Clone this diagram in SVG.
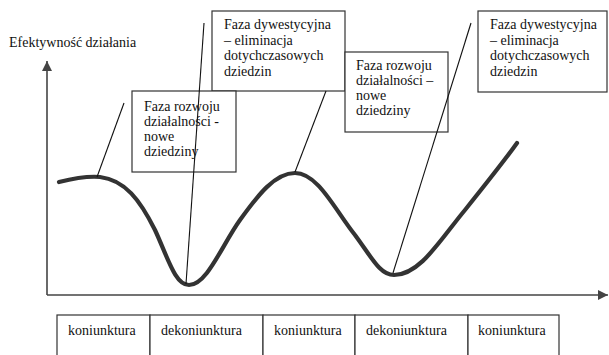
<svg xmlns="http://www.w3.org/2000/svg" width="609" height="355" viewBox="0 0 609 355">
<style>
text{font-family:"Liberation Serif","Times New Roman",serif;font-size:14px;fill:#111}
.box{fill:#fff;stroke:#333;stroke-width:1.2}
.ax{stroke:#444;stroke-width:1.6;fill:none}
.lead{stroke:#111;stroke-width:1.1;fill:none}
.curve{stroke:#333;stroke-width:4.2;fill:none;stroke-linecap:round}
.cell{fill:#fff;stroke:#333;stroke-width:1.2}
</style>
<defs>
<marker id="arr" viewBox="0 0 10 10" refX="10" refY="5" markerWidth="10" markerHeight="10" markerUnits="userSpaceOnUse" orient="auto">
<path d="M0,0 L10,5 L0,10 Z" fill="#444"/>
</marker>
</defs>
<g id="axes">
<line class="ax" x1="47" y1="295" x2="47" y2="61" marker-end="url(#arr)"/>
<line class="ax" x1="47" y1="295" x2="608" y2="295" marker-end="url(#arr)"/>
<text x="9" y="47">Efektywność działania</text>
</g>
<path id="curve" class="curve" d="M59,182 C75,178 88,176 100,177 C125,180 140,200 155,230 C168,258 175,285 189,285 C207,285 222,245 240,220 C258,195 275,173 295,173 C318,173 335,210 355,235 C372,258 380,275 394,275 C420,275 440,240 465,210 C485,185 505,160 517,143"/>
<g id="box-dyw1">
<rect class="box" x="212" y="11" width="133" height="80"/>
<text x="224" y="29">Faza dywestycyjna</text>
<text x="224" y="44.5">– eliminacja</text>
<text x="224" y="60">dotychczasowych</text>
<text x="224" y="75.5">dziedzin</text>
</g>
<g id="box-rozw1">
<rect class="box" x="132" y="91" width="104" height="81"/>
<text x="144" y="111">Faza rozwoju</text>
<text x="144" y="126">działalności -</text>
<text x="144" y="141">nowe</text>
<text x="144" y="156">dziedziny</text>
</g>
<g id="box-rozw2">
<rect class="box" x="345" y="52" width="103" height="80"/>
<text x="356" y="70">Faza rozwoju</text>
<text x="356" y="85">działalności –</text>
<text x="356" y="100">nowe</text>
<text x="356" y="115">dziedziny</text>
</g>
<g id="box-dyw2">
<rect class="box" x="478" y="11" width="129" height="81"/>
<text x="490" y="29">Faza dywestycyjna</text>
<text x="490" y="44.5">– eliminacja</text>
<text x="490" y="60">dotychczasowych</text>
<text x="490" y="75.5">dziedzin</text>
</g>
<g id="connectors">
<line class="lead" x1="124" y1="103" x2="97" y2="177"/>
<line class="lead" x1="204" y1="23" x2="186" y2="284"/>
<line class="lead" x1="326" y1="91" x2="295" y2="172"/>
<line class="lead" x1="471" y1="23" x2="393" y2="273"/>
</g>
<g id="table">
<rect class="cell" x="57" y="315" width="93" height="45"/>
<rect class="cell" x="150" y="315" width="113" height="45"/>
<rect class="cell" x="263" y="315" width="92" height="45"/>
<rect class="cell" x="355" y="315" width="113" height="45"/>
<rect class="cell" x="468" y="315" width="91" height="45"/>
<text x="68" y="335">koniunktura</text>
<text x="161" y="335">dekoniunktura</text>
<text x="274" y="335">koniunktura</text>
<text x="366" y="335">dekoniunktura</text>
<text x="478" y="335">koniunktura</text>
</g>
</svg>
